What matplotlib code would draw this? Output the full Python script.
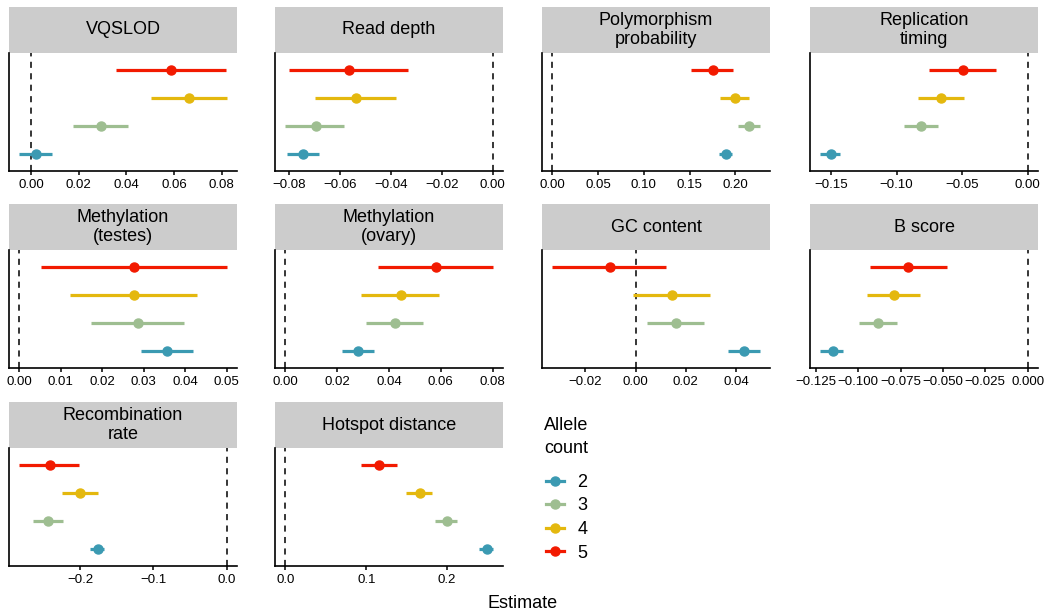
import matplotlib.pyplot as plt
import numpy as np
from matplotlib.lines import Line2D

plt.rcParams['font.family'] = ['Liberation Sans', 'DejaVu Sans']

# Panels (facet titles) in display order
panels = ["VQSLOD", "Read depth", "Polymorphism\nprobability", "Replication\ntiming",
          "Methylation\n(testes)", "Methylation\n(ovary)", "GC content", "B score",
          "Recombination\nrate", "Hotspot distance"]

allele_counts = ["2", "3", "4", "5"]
colors = ["#3B9AB2", "#9EBE91", "#E4B80E", "#F21A00"]

# Estimates and interval bounds, one value per panel
est_2 = [0.0022, -0.0745, 0.1898, -0.150, 0.0357, 0.0280, 0.0433, -0.1152, -0.1759, 0.2488]
lo_2 = [-0.0049, -0.0811, 0.1821, -0.1581, 0.0293, 0.0218, 0.0368, -0.1224, -0.1864, 0.2397]
hi_2 = [0.0087, -0.0682, 0.1960, -0.1429, 0.0419, 0.0341, 0.0494, -0.1093, -0.1673, 0.2562]

est_3 = [0.0293, -0.0697, 0.2150, -0.0810, 0.0285, 0.0423, 0.0162, -0.0881, -0.2436, 0.2000]
lo_3 = [0.0177, -0.0816, 0.2026, -0.0942, 0.0174, 0.0312, 0.0046, -0.0998, -0.2641, 0.1855]
hi_3 = [0.0409, -0.0587, 0.2266, -0.0680, 0.0396, 0.0532, 0.0271, -0.0770, -0.2236, 0.2124]

est_4 = [0.0663, -0.0539, 0.1996, -0.0662, 0.0277, 0.0445, 0.0146, -0.0790, -0.2005, 0.1661]
lo_4 = [0.0503, -0.0701, 0.1828, -0.0840, 0.0123, 0.0293, -0.0011, -0.0951, -0.2255, 0.1488]
hi_4 = [0.0821, -0.0382, 0.2150, -0.0485, 0.0428, 0.0592, 0.0297, -0.0635, -0.1764, 0.1818]

est_5 = [0.0589, -0.0566, 0.1752, -0.0490, 0.0277, 0.0583, -0.0101, -0.0704, -0.2409, 0.1157]
lo_5 = [0.0356, -0.0800, 0.1515, -0.0756, 0.0051, 0.0357, -0.0332, -0.0930, -0.2832, 0.0930]
hi_5 = [0.0818, -0.0333, 0.1974, -0.0241, 0.0500, 0.0800, 0.0122, -0.0478, -0.2014, 0.1380]

# x tick labels per panel
tick_labels = [
    ["0.00", "0.02", "0.04", "0.06", "0.08"],
    ["-0.08", "-0.06", "-0.04", "-0.02", "0.00"],
    ["0.00", "0.05", "0.10", "0.15", "0.20"],
    ["-0.15", "-0.10", "-0.05", "0.00"],
    ["0.00", "0.01", "0.02", "0.03", "0.04", "0.05"],
    ["0.00", "0.02", "0.04", "0.06", "0.08"],
    ["-0.02", "0.00", "0.02", "0.04"],
    ["-0.125", "-0.100", "-0.075", "-0.050", "-0.025", "0.000"],
    ["-0.2", "-0.1", "0.0"],
    ["0.0", "0.1", "0.2"],
]

series = [(est_2, lo_2, hi_2), (est_3, lo_3, hi_3), (est_4, lo_4, hi_4), (est_5, lo_5, hi_5)]

W, H = 1050, 615
fig = plt.figure(figsize=(W / 100, H / 100), dpi=100)

col_left = [9, 275, 542, 810]
row_top = [7, 204, 402]
panel_w = 228
strip_h = 46
plot_h = 118


def px_axes(x, y, w, h):
    # pixel box (top-left origin) -> figure axes
    return fig.add_axes([x / W, 1 - (y + h) / H, w / W, h / H])


for i, title in enumerate(panels):
    r, c = divmod(i, 4)
    x0, y0 = col_left[c], row_top[r]

    sax = px_axes(x0, y0, panel_w, strip_h)
    sax.set_facecolor("#CCCCCC")
    sax.set_xticks([])
    sax.set_yticks([])
    for s in sax.spines.values():
        s.set_visible(False)
    sax.text(0.5, 0.5, title, ha="center", va="center", fontsize=13,
             linespacing=1.12, transform=sax.transAxes)

    ax = px_axes(x0, y0 + strip_h, panel_w, plot_h)
    vals = [0.0]
    for k, (est, lo, hi) in enumerate(series):
        ax.hlines(k, lo[i], hi[i], color=colors[k], lw=2.3, zorder=2)
        ax.plot(est[i], k, "o", color=colors[k], ms=6.5, zorder=3)
        vals += [lo[i], hi[i]]
    ax.axvline(0, color="black", lw=1.1, ls=(0, (4, 3.5)), zorder=1)

    lo_v, hi_v = min(vals), max(vals)
    pad = (hi_v - lo_v) * 0.05
    ax.set_xlim(lo_v - pad, hi_v + pad)
    ax.set_ylim(-0.6, 3.6)

    labels = tick_labels[i]
    ax.set_xticks([float(t) for t in labels])
    ax.set_xticklabels([t.replace("-", "\u2212") for t in labels], fontsize=9.5)
    ax.set_yticks([])
    ax.tick_params(axis="x", length=3, width=1.1, pad=2.5, color="black")
    for side in ["top", "right"]:
        ax.spines[side].set_visible(False)
    for side in ["left", "bottom"]:
        ax.spines[side].set_linewidth(1.2)

fig.text(523 / W, 1 - 603 / H, "Estimate", ha="center", va="center", fontsize=13)

# legend
fig.text(544 / W, 1 - 417 / H, "Allele\ncount", ha="left", va="top", fontsize=13,
         linespacing=1.45)
handles = [Line2D([], [], color=col, marker="o", ms=6.5, lw=2.3) for col in colors]
fig.legend(handles, allele_counts, loc="upper left",
           bbox_to_anchor=(546 / W, 1 - 474 / H), frameon=False, fontsize=13,
           handlelength=1.0, handletextpad=0.75, borderpad=0, borderaxespad=0,
           labelspacing=0.36)

fig.savefig("out.png", dpi=100)
